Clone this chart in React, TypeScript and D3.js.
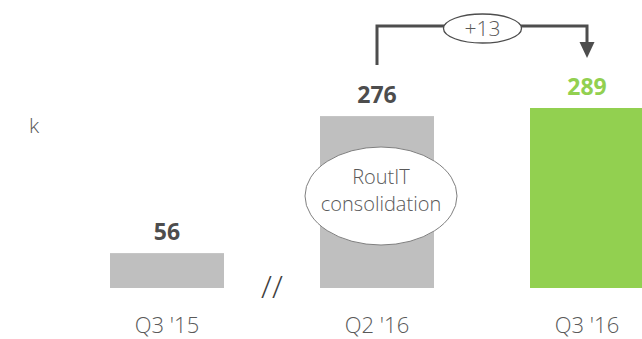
import React from "react";
import * as d3 from "d3";

const categories = ["Q3 '15", "Q2 '16", "Q3 '16"];
const values = [56, 276, 289];
const barColors = ["#bfbfbf", "#bfbfbf", "#92d050"];
const labelColors = ["#4d4d4d", "#4d4d4d", "#92d050"];
const unitLabel = "k";
const deltaLabel = "+13";
const noteLines = ["RoutIT", "consolidation"];

const W = 642;
const H = 339;
const font = "'Open Sans', Lato, sans-serif";

export default function App() {
  const x = d3.scalePoint<string>().domain(categories).range([167, 587]);
  const y = d3.scaleLinear().domain([0, 289]).range([288, 108]);
  const barW = 114;

  const x2 = x(categories[1])!;
  const x3 = x(categories[2])!;
  const top2 = y(values[1]);
  const top3 = y(values[2]);

  return (
    <svg
      width={W}
      height={H}
      style={{ position: "absolute", left: 0, top: 0, background: "#fff" }}
    >
      <text x={29} y={133} fontFamily={font} fontWeight={300} fontSize={21} fill="#595959">
        {unitLabel}
      </text>

      {values.map((v, i) => {
        const cx = x(categories[i])!;
        return (
          <g key={i}>
            <rect
              x={cx - barW / 2}
              y={y(v)}
              width={barW}
              height={y(0) - y(v)}
              fill={barColors[i]}
            />
            <text
              x={cx}
              y={y(v) - 13}
              textAnchor="middle"
              fontFamily={font}
              fontWeight={700}
              fontSize={23}
              fill={labelColors[i]}
            >
              {v}
            </text>
            <text
              x={cx}
              y={333}
              textAnchor="middle"
              fontFamily={font}
              fontWeight={300}
              fontSize={22}
              fill="#595959"
            >
              {categories[i]}
            </text>
          </g>
        );
      })}

      {/* axis break */}
      <text x={272} y={298} textAnchor="middle" fontFamily={font} fontWeight={300} fontSize={32} fill="#404040">
        //
      </text>

      {/* note bubble */}
      <ellipse cx={381} cy={196} rx={76} ry={49} fill="#fff" stroke="#7f7f7f" strokeWidth={1} />
      {noteLines.map((t, i) => (
        <text
          key={t}
          x={381}
          y={184 + i * 27}
          textAnchor="middle"
          fontFamily={font}
          fontWeight={300}
          fontSize={20}
          fill="#595959"
        >
          {t}
        </text>
      ))}

      {/* change arrow */}
      <path
        d={`M${x2},${top2 - 51} V26 H${x3} V44`}
        fill="none"
        stroke="#4d4d4d"
        strokeWidth={3}
      />
      <path d={`M${x3 - 7.5},42 L${x3 + 7.5},42 L${x3},${top3 - 50} Z`} fill="#4d4d4d" />
      <ellipse cx={482.5} cy={28.5} rx={39} ry={14.5} fill="#fff" stroke="#4d4d4d" strokeWidth={1.3} />
      <text x={482.5} y={35.5} textAnchor="middle" fontFamily={font} fontWeight={300} fontSize={21} fill="#595959">
        {deltaLabel}
      </text>
    </svg>
  );
}
